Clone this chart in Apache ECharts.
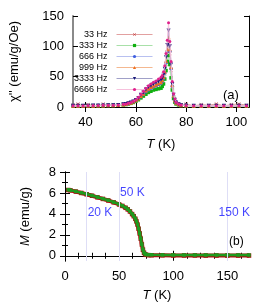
<!DOCTYPE html>
<html><head><meta charset="utf-8">
<script src="https://cdn.jsdelivr.net/npm/echarts@6/dist/echarts.min.js"></script>
<style>html,body{margin:0;padding:0;background:#fff}#c{width:275px;height:308px}</style>
</head><body><div id="c"></div>
<script>
// ---------- panel (a): chi'' vs T ----------
const Ta = [35,37,39,41,43,45,47,49,51,53,55,56,57,58,59,60,61,62,63,64,65,66,67,68,69,70,70.5,71,71.5,72,72.5,73,73.5,74,74.5,75,75.5,76,77,78,80,83,86,89,92,95,98,101,104];
const c33   = [3,5,2,4,3,2,5,3,4,3,5,4,6,7,9,11,14,17,21,24,27,30,32,34,36,38,41,46,55,70,88,105,88,60,33,17,10,7,5,3,5,2,4,3,5,2,4,5,3];
const c333  = [1.5,1.5,2,2,2,2,2,2.5,2.5,3,3.5,4,5,6,7.5,9.5,12,15,18,21,24,26,28,29,30,31,34,38,46,60,75,85,70,48,28,14,8,5,3.5,2.5,2,1.5,1.5,1.5,1.5,1.5,1.5,1.5,1.5];
const c666  = [2,2,2,2,2,2.5,2.5,2.5,3,3.5,4,5,5.5,7,8.5,10.5,13.5,17,21,25,28,31,33,35,37,39,42,47,56,73,92,110,92,63,34,18,10,6.5,4,3,2.5,2,2,2,2,2,2,2,2];
const c999  = [2,2,2,2,2,2.5,2.5,3,3,3.5,4,5,6,7,9,11,14,18,22,27,30,33,35,37,39,41,44,49,58,76,95,115,95,66,36,19,11,7,4.5,3,2.5,2,2,2,2,2,2,2,2];
const c3333 = [2,2,2,2,2.5,2.5,2.5,3,3,3.5,4.5,5,6,7.5,9,11.5,15,20,24,29,33,35,38,40,42,45,48,53,63,82,102,126,100,70,38,20,12,7.5,4.5,3,2.5,2,2,2,2,2,2,2,2];
const c6666 = [2,2,2,2.5,2.5,2.5,3,3,3,3.5,4.5,5,6,7.5,9.5,12,16,21,26,31,35,38,41,43,46,49,52,58,68,88,110,139,108,75,42,22,13,8,5,3.5,2.5,2,2,2,2,2,2,2,2];
const freqNames = ['33 Hz','333 Hz','666 Hz','999 Hz','3333 Hz','6666 Hz'];
const xTicksA = [40,60,80,100];
const yTicksA = [0,50,100,150];

// ---------- panel (b): M vs T ----------
const Tb = [3,5,10,15,20,25,30,35,40,45,50,53,56,58,60,62,63.5,65,66,67,68,69,70,71,72,73,74,75,77,80,90,100,110,120,130,140,150,160,170];
const Mred   = [6.28,6.25,6.13,6.0,5.87,5.73,5.58,5.43,5.28,5.1,4.9,4.76,4.58,4.43,4.23,3.98,3.78,3.53,3.28,2.98,2.58,2.13,1.63,1.08,0.58,0.28,0.14,0.09,0.06,0.05,0.04,0.03,0.03,0.03,0.02,0.02,0.02,0.02,0.02];
const Mgreen = [6.3,6.27,6.15,6.02,5.9,5.75,5.6,5.45,5.3,5.12,4.92,4.78,4.6,4.45,4.25,4.0,3.8,3.55,3.3,3.0,2.6,2.15,1.65,1.1,0.6,0.3,0.17,0.12,0.1,0.09,0.08,0.08,0.07,0.07,0.07,0.07,0.07,0.07,0.07];
const vLines = [20,50,150];
const tempLabels = [[20,4.1,'20 K'],[50,6.06,'50 K'],[141,4.1,'150 K']];
const xTicksB = [0,50,100,150];
const xMinorB = [12.5,25,37.5,62.5,75,87.5,112.5,125,137.5,162.5];
const yTicksB = [0,2,4,6,8];
const yMinorB = [1,3,5,7];

const FONT = 'Liberation Sans, Arial, sans-serif';
const pair = (xs, ys) => xs.map((x, i) => [x, ys[i]]);

function tickAxis(o) {
  return Object.assign({
    type: 'value', gridIndex: o.grid, position: o.pos, min: o.min, max: o.max,
    axisLine: { show: o.line !== false, lineStyle: { color: o.lineColor || '#000', width: o.lineWidth || 1 } },
    axisTick: { show: true, inside: true, length: o.len || 5, customValues: o.ticks, lineStyle: { color: '#000', width: 1 } },
    axisLabel: o.labels ? { show: true, customValues: o.ticks, color: '#000', fontSize: 13, fontFamily: FONT, margin: 9 } : { show: false },
    splitLine: { show: false }
  }, o.extra || {});
}

const xAxes = [
  tickAxis({ grid: 0, pos: 'bottom', min: 35, max: 105, ticks: xTicksA, labels: true, extra: {
    name: '{i|T} (K)', nameLocation: 'middle', nameGap: 31,
    nameTextStyle: { color: '#000', fontSize: 13, fontFamily: FONT, rich: { i: { fontStyle: 'italic', fontSize: 13, fontFamily: FONT } } } } }),
  tickAxis({ grid: 0, pos: 'top', min: 35, max: 105, ticks: xTicksA }),
  tickAxis({ grid: 1, pos: 'bottom', min: 0, max: 170, ticks: xTicksB, labels: true, extra: {
    name: '{i|T} (K)', nameLocation: 'middle', nameGap: 28,
    nameTextStyle: { color: '#000', fontSize: 13, fontFamily: FONT, rich: { i: { fontStyle: 'italic', fontSize: 13, fontFamily: FONT } } } } }),
  tickAxis({ grid: 1, pos: 'bottom', min: 0, max: 170, ticks: xMinorB, len: 3, line: false }),
  tickAxis({ grid: 1, pos: 'top', min: 0, max: 170, ticks: xTicksB }),
  tickAxis({ grid: 1, pos: 'top', min: 0, max: 170, ticks: xMinorB, len: 3, line: false })
];
const yAxes = [
  tickAxis({ grid: 0, pos: 'left', min: 0, max: 150, ticks: yTicksA, labels: true, lineColor: '#8a8a8a', lineWidth: 2, extra: {
    name: "χ'' (emu/g/Oe)", nameLocation: 'middle', nameGap: 52,
    nameTextStyle: { color: '#000', fontSize: 13, fontFamily: FONT } } }),
  tickAxis({ grid: 0, pos: 'right', min: 0, max: 150, ticks: yTicksA }),
  tickAxis({ grid: 1, pos: 'left', min: -0.5, max: 8, ticks: yTicksB, labels: true, extra: {
    name: '{i|M} (emu/g)', nameLocation: 'middle', nameGap: 33,
    nameTextStyle: { color: '#000', fontSize: 13, fontFamily: FONT, rich: { i: { fontStyle: 'italic', fontSize: 13, fontFamily: FONT } } } } }),
  tickAxis({ grid: 1, pos: 'left', min: -0.5, max: 8, ticks: yMinorB, len: 3, line: false }),
  tickAxis({ grid: 1, pos: 'right', min: -0.5, max: 8, ticks: yTicksB }),
  tickAxis({ grid: 1, pos: 'right', min: -0.5, max: 8, ticks: yMinorB, len: 3, line: false })
];

const X_PATH = 'path://M0,1L1,0L5,4L9,0L10,1L6,5L10,9L9,10L5,6L1,10L0,9L4,5Z';
const styles = [
  { data: c33,   mark: '#c03030', line: '#e2a0a0', sym: X_PATH, size: 3.5, rot: 0 },
  { data: c333,  mark: '#10b010', line: '#a8e0a8', sym: 'rect', size: 3.5, rot: 0 },
  { data: c666,  mark: '#3f5fe0', line: '#b8c0f0', sym: 'circle', size: 3.5, rot: 0 },
  { data: c999,  mark: '#f07020', line: '#f4b890', sym: 'triangle', size: 4, rot: 0 },
  { data: c3333, mark: '#181878', line: '#a0a0c8', sym: 'triangle', size: 4, rot: 180 },
  { data: c6666, mark: '#e0208c', line: '#f6c0dc', sym: 'circle', size: 3, rot: 0 }
];
const series = styles.map((s, i) => ({
  name: freqNames[i], type: 'line', xAxisIndex: 0, yAxisIndex: 0,
  data: pair(Ta, s.data), symbol: s.sym, symbolSize: s.size, symbolRotate: s.rot, showAllSymbol: true,
  lineStyle: { color: s.line, width: 1 }, itemStyle: { color: s.mark }, z: 2 + i, animation: false
}));

series.push({
  type: 'line', xAxisIndex: 2, yAxisIndex: 2, data: [], z: 1, animation: false, silent: true,
  markLine: { symbol: 'none', silent: true, animation: false, label: { show: false },
    lineStyle: { color: '#dedef6', width: 1, type: 'solid' }, data: vLines.map(v => ({ xAxis: v })) }
});
series.push({
  type: 'line', xAxisIndex: 2, yAxisIndex: 2, data: pair(Tb, Mred), symbol: 'rect', symbolSize: 4.5, showAllSymbol: true,
  lineStyle: { color: '#a81010', width: 4 }, itemStyle: { color: '#a81010' }, z: 3, animation: false
});
series.push({
  type: 'line', xAxisIndex: 2, yAxisIndex: 2, data: pair(Tb, Mgreen), symbol: 'rect', symbolSize: 3.5, showAllSymbol: true,
  lineStyle: { color: '#1f9a1f', width: 2.5 }, itemStyle: { color: '#1f9a1f' }, z: 4, animation: false
});
series.push({
  type: 'scatter', xAxisIndex: 2, yAxisIndex: 2, data: tempLabels, symbolSize: 0, z: 5, animation: false, silent: true,
  label: { show: true, position: 'right', distance: 1, formatter: p => p.data[2], color: '#1414ff', fontSize: 12, fontFamily: FONT }
});

const chart = echarts.init(document.getElementById('c'), null, { renderer: 'canvas' });
chart.setOption({
  animation: false,
  grid: [
    { left: 71, top: 16, width: 178, height: 91 },
    { left: 65, top: 172, width: 184, height: 89 }
  ],
  xAxis: xAxes, yAxis: yAxes,
  legend: {
    data: freqNames, orient: 'vertical', left: 74, top: 30, padding: 0, itemGap: 2,
    itemWidth: 36, itemHeight: 4, align: 'right', selectedMode: false,
    lineStyle: { width: 1 },
    textStyle: { fontSize: 9, fontFamily: FONT, color: '#000', padding: [0, 4, 0, 0] }
  },
  graphic: [
    { type: 'text', left: 223, top: 89, style: { text: '(a)', fontSize: 13, fontFamily: FONT, fill: '#000' } },
    { type: 'text', left: 229, top: 236, style: { text: '(b)', fontSize: 12, fontFamily: FONT, fill: '#000' } }
  ],
  series: series
});
</script></body></html>
